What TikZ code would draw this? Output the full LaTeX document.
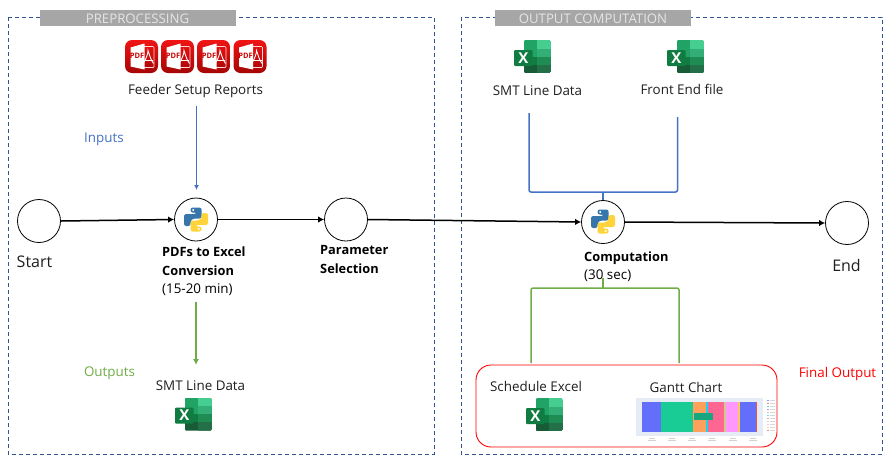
\documentclass[tikz,border=0pt]{standalone}
\usepackage{fontspec}
\setmainfont{Open Sans}
\usetikzlibrary{arrows.meta,shadings}
\definecolor{dashblue}{HTML}{2F5597}
\definecolor{inblue}{HTML}{4472C4}
\definecolor{outgreen}{HTML}{70AD47}
\definecolor{bandgrey}{HTML}{A6A6A6}
\definecolor{pyblue}{HTML}{3776AB}
\definecolor{pyyellow}{HTML}{FFD43B}
\newcommand{\lbl}{\fontsize{13.4}{17}\selectfont}
\newcommand{\lblb}{\fontsize{12.8}{19}\selectfont\bfseries}
\tikzset{
  x=1pt,y=-1pt,
  frame/.style={draw=dashblue,dashed,dash pattern=on 4pt off 3pt,line width=0.8pt},
  band/.style={fill=bandgrey,draw=none},
  bandtext/.style={text=white!90!black,font=\fontsize{13.2}{15}\selectfont,inner sep=0},
  flowcircle/.style={circle,draw=black,line width=0.8pt,minimum size=43pt,inner sep=0,fill=white},
  flow/.style={draw=black,line width=1.5pt},
  flowtip/.style={flow,-{Latex[length=6pt,width=6.5pt]}},
  lab/.style={inner sep=0,font=\lbl,text=black!88},
  blab/.style={inner sep=0,font=\lblb,align=left,text=black},
  bluebr/.style={draw=inblue,line width=1.5pt,rounded corners=2pt},
  greenbr/.style={draw=outgreen,line width=1.5pt,rounded corners=2pt},
  excelicon/.pic={
    \fill[rounded corners=1pt,fill=white] (-9,-16.5) rectangle (18.5,16.5);
    \begin{scope}
      \clip[rounded corners=1.5pt] (-9,-16.5) rectangle (18.5,16.5);
      \fill[fill={rgb,255:red,33;green,163;blue,102}] (-9,-16.5) rectangle (4.5,-8);
      \fill[fill={rgb,255:red,70;green,205;blue,144}] (4.5,-16.5) rectangle (18.5,-8);
      \fill[fill={rgb,255:red,33;green,163;blue,102}] (-9,-8) rectangle (4.5,0);
      \fill[fill={rgb,255:red,51;green,174;blue,118}] (4.5,-8) rectangle (18.5,0);
      \fill[fill={rgb,255:red,16;green,124;blue,65}] (-9,0) rectangle (4.5,8);
      \fill[fill={rgb,255:red,31;green,140;blue,84}] (4.5,0) rectangle (18.5,8);
      \fill[fill={rgb,255:red,24;green,92;blue,55}] (-9,8) rectangle (18.5,16.5);
      \fill[fill={rgb,255:red,35;green,112;blue,72}] (4.5,8) rectangle (18.5,16.5);
    \end{scope}
    \fill[fill={rgb,255:red,16;green,124;blue,65},rounded corners=1pt] (-18.5,-6.5) rectangle (0,9.5);
    \node[inner sep=0,text=white,font=\fontsize{15}{15}\selectfont\bfseries] at (-9.2,1.5) {X};
  },
  pdficon/.pic={
    \shade[rounded corners=7pt,top color={rgb,255:red,240;green,20;blue,20},bottom color={rgb,255:red,165;green,5;blue,5}] (-16.5,-16.5) rectangle (16.5,16.5);
    \draw[white!85!red,line width=0.7pt,rounded corners=1pt] (0,-10) -- (12.5,-10) -- (12.5,11) -- (0,11);
    \fill[white] (-11,-9) -- (3,-13) -- (3,13) -- (-11,10) -- cycle;
    \draw[white,line width=0.9pt] (1,8) .. controls (5,2) and (6.5,-3) .. (6.5,-6) .. controls (8,-2) and (9,3) .. (12,7);
    \draw[white,line width=0.7pt] (3,4) -- (11.5,4);
    \node[inner sep=0,text=red!80!black,font=\fontsize{7.5}{8}\selectfont\bfseries] at (-4.5,-0.5) {PDF};
  },
  pylogo/.pic={
    \fill[pyblue,rounded corners=2.2pt] (-5.5,-12) -- (5.5,-12) -- (5.5,-1) -- (-3,-1) -- (-5.5,1.5) -- (-5.5,6.5) -- (-12,6.5) -- (-12,-5.5) -- (0.5,-5.5) -- (0.5,-7) -- (-5.5,-7) -- cycle;
    \begin{scope}[rotate=180]
      \fill[pyyellow,rounded corners=2.2pt] (-5.5,-12) -- (5.5,-12) -- (5.5,-1) -- (-3,-1) -- (-5.5,1.5) -- (-5.5,6.5) -- (-12,6.5) -- (-12,-5.5) -- (0.5,-5.5) -- (0.5,-7) -- (-5.5,-7) -- cycle;
      \fill[white] (-2.8,-9.5) circle (1.1);
    \end{scope}
    \fill[white] (-2.8,-9.5) circle (1.1);
  }
}
\begin{document}
\begin{tikzpicture}
\useasboundingbox[fill=white] (0,0) rectangle (896,464);
% frames
\draw[frame] (8,17) rectangle (434,454);
\draw[frame] (461,17) rectangle (882,454);
\fill[band] (40,10) rectangle (236,26);
\fill[band] (495,10) rectangle (691,26);
\node[bandtext] (prep) at (137.5,19) {PREPROCESSING};
\node[bandtext] (outc) at (593,19) {OUTPUT COMPUTATION};
% icons
\pic at (141.5,56.5) {pdficon};
\pic at (177.5,56.5) {pdficon};
\pic at (213.5,56.5) {pdficon};
\pic at (250,56.5) {pdficon};
\pic at (532.5,56.5) {excelicon};
\pic at (685.5,56.5) {excelicon};
\pic at (193.5,414) {excelicon};
\pic at (544.5,414.5) {excelicon};
% labels
\node[lab] (feeder) at (195.5,91) {Feeder Setup Reports};
\node[lab,text=inblue] (inputs) at (104,139) {Inputs};
\node[lab,text=outgreen] (outputs) at (109.5,373) {Outputs};
\node[lab] (smt1) at (537.5,90.5) {SMT Line Data};
\node[lab] (front) at (682,89.5) {Front End file};
\node[lab] (smt2) at (200.5,386) {SMT Line Data};
\node[lab] (sched) at (536,386) {Schedule Excel};
\node[lab] (gantt) at (686,387) {Gantt Chart};
\node[lab,text=red] (final) at (837.5,374) {Final Output};
\node[lab,font=\fontsize{16}{18}\selectfont] (startl) at (34.5,261.5) {Start};
\node[lab,font=\fontsize{16}{18}\selectfont] (endl) at (846.5,265.5) {End};
\node[blab,anchor=north west] (pdflab) at (162,247) {PDFs to Excel\\Conversion\\[-1pt]{\normalfont\lbl(15-20 min)}};
\node[blab,anchor=north west] (paramlab) at (320,245) {Parameter\\Selection};
\node[blab,anchor=north west] (complab) at (584,252) {Computation\\[-1pt]{\normalfont\lbl(30 sec)}};
% flow circles
\node[flowcircle] (start) at (39,221) {};
\node[flowcircle] (py1) at (196,219.5) {};
\node[flowcircle] (param) at (346,219.5) {};
\node[flowcircle] (comp) at (603,222) {};
\node[flowcircle] (end) at (847,223) {};
\pic at (196,219.5) {pylogo};
\pic at (603,221.5) {pylogo};
% flow connectors
\draw[flowtip] (start.east) -- (py1.west);
\draw[flowtip] (py1.east) -- (param.west);
\draw[flowtip] (param.east) -- (comp.west);
\draw[flowtip] (comp.east) -- (end.west);
% input and output arrows
\coordinate (inS) at (196.5,106);
\coordinate (inE) at (196.5,190);
\coordinate (outS) at (196,302);
\coordinate (outE) at (196,365);
\draw[draw=inblue,line width=1.1pt,-{Latex[length=5pt,width=5pt]}] (inS) -- (inE);
\draw[draw=outgreen,line width=1.2pt,-{Latex[length=6pt,width=6pt]}] (outS) -- (outE);
% brackets
\coordinate (bl) at (529,113);
\coordinate (bc) at (603,192);
\coordinate (br) at (677.5,117);
\draw[bluebr] (bl) -- (bl|-bc) -- (br|-bc) -- (br);
\draw[draw=inblue,line width=1.5pt] (bc) -- (comp.north);
\coordinate (gl) at (531,363);
\coordinate (gc) at (603,288);
\coordinate (gr) at (679,363);
\coordinate (gs) at (603,278);
\draw[greenbr] (gl) -- (gl|-gc) -- (gr|-gc) -- (gr);
\draw[draw=outgreen,line width=1.5pt] (gc) -- (gs);
% final output box
\draw[draw=red,line width=0.9pt,rounded corners=15pt] (476,365) rectangle (777,447);
% gantt chart
\fill[fill={rgb,255:red,229;green,236;blue,246}] (636,398) rectangle (763,435.5);
\foreach \a/\b/\c in {642/661/636EFA,661/693/19CC95,693/706/FFA15A,706/708/19D3F3,708/724/FF6692,724/726/D6C88A,726/738/FF97FF,738/740/FECB52,740/756/636EFA,756/757/EF553B}{
  \definecolor{gc}{HTML}{\c}
  \fill[gc] (\a,402) rectangle (\b,432);
}
\fill[fill={rgb,255:red,23;green,166;blue,125}] (694,413) rectangle (713,420);
\foreach \x in {652,672,692,712,733,753}{
  \fill[black!18] (\x-3,437.5) rectangle (\x+3,438.2);
  \fill[black!18] (\x-4,439.5) rectangle (\x+4,440.2);
}
\foreach \y/\c in {400/636EFA,403/EF553B,406/19CC95,409/AB63FA,412/FFA15A,415/19D3F3,418/FF6692,421/B6E880,424/FF97FF,427/FECB52,430/EF553B}{
  \definecolor{lc}{HTML}{\c}
  \fill[lc!70] (767,\y) rectangle (769,\y+1);
  \fill[black!15] (770,\y) rectangle (775,\y+1);
}
\end{tikzpicture}
\end{document}
